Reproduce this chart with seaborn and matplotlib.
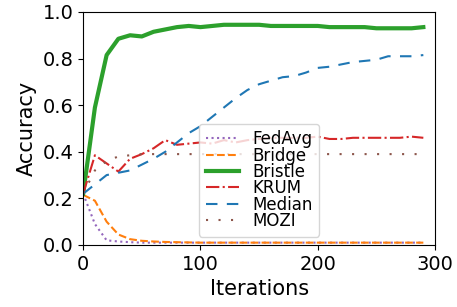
import numpy as np
import pandas as pd
import matplotlib
matplotlib.use("Agg")
import matplotlib.pyplot as plt
import seaborn as sns

# iterations 0..290, step 10
iterations = list(range(0, 300, 10))

fedavg = [0.22, 0.09, 0.02, 0.015, 0.012, 0.01, 0.01, 0.01, 0.01, 0.01,
          0.01, 0.01, 0.01, 0.01, 0.01, 0.01, 0.01, 0.01, 0.01, 0.01,
          0.01, 0.01, 0.01, 0.01, 0.01, 0.01, 0.01, 0.01, 0.01, 0.01]
bridge = [0.215, 0.19, 0.10, 0.045, 0.025, 0.018, 0.015, 0.013, 0.012, 0.011,
          0.01, 0.01, 0.01, 0.01, 0.01, 0.01, 0.01, 0.01, 0.01, 0.01,
          0.01, 0.01, 0.01, 0.01, 0.01, 0.01, 0.01, 0.01, 0.01, 0.01]
bristle = [0.22, 0.59, 0.815, 0.885, 0.90, 0.895, 0.915, 0.925, 0.935, 0.94,
           0.935, 0.94, 0.945, 0.945, 0.945, 0.945, 0.94, 0.94, 0.94, 0.94,
           0.94, 0.935, 0.935, 0.935, 0.935, 0.93, 0.93, 0.93, 0.93, 0.935]
krum = [0.22, 0.385, 0.35, 0.315, 0.37, 0.39, 0.415, 0.45, 0.43, 0.435,
        0.44, 0.435, 0.45, 0.44, 0.45, 0.455, 0.46, 0.46, 0.46, 0.46,
        0.465, 0.455, 0.455, 0.46, 0.46, 0.46, 0.46, 0.46, 0.465, 0.46]
median = [0.22, 0.26, 0.30, 0.31, 0.32, 0.345, 0.37, 0.40, 0.44, 0.48,
          0.51, 0.55, 0.59, 0.63, 0.665, 0.69, 0.705, 0.72, 0.725, 0.74,
          0.76, 0.765, 0.775, 0.785, 0.79, 0.795, 0.81, 0.81, 0.81, 0.815]
mozi = [0.22, 0.32, 0.36, 0.38, 0.385, 0.39, 0.39, 0.39, 0.39, 0.39,
        0.39, 0.39, 0.39, 0.39, 0.39, 0.39, 0.39, 0.39, 0.39, 0.39,
        0.39, 0.39, 0.39, 0.39, 0.39, 0.39, 0.39, 0.39, 0.39, 0.39]

methods = ["FedAvg", "Bridge", "Bristle", "KRUM", "Median", "MOZI"]
values = [fedavg, bridge, bristle, krum, median, mozi]

df = pd.DataFrame({"Iterations": iterations * len(methods),
                   "Accuracy": sum(values, []),
                   "method": [m for m in methods for _ in iterations]})

colors = {"FedAvg": "tab:purple", "Bridge": "tab:orange", "Bristle": "tab:green",
          "KRUM": "tab:red", "Median": "tab:blue", "MOZI": "tab:brown"}
styles = {"FedAvg": ":", "Bridge": "--", "Bristle": "-",
          "KRUM": "-.", "Median": (0, (5.5, 4.5)), "MOZI": (0, (1, 5))}
widths = {"FedAvg": 1.5, "Bridge": 1.5, "Bristle": 3, "KRUM": 1.5,
          "Median": 1.5, "MOZI": 1.5}

fig = plt.figure(figsize=(4.57, 3.07), dpi=100)
ax = fig.add_axes([0.182, 0.202, 0.770, 0.759])

for m in methods:
    sns.lineplot(data=df[df["method"] == m], x="Iterations", y="Accuracy",
                 ax=ax, label=m, color=colors[m], linestyle=styles[m],
                 linewidth=widths[m])

ax.set_xlim(0, 300)
ax.set_ylim(0, 1.0)
ax.set_xticks([0, 100, 200, 300])
ax.set_yticks([0.0, 0.2, 0.4, 0.6, 0.8, 1.0])
ax.tick_params(labelsize=14)
ax.set_xlabel("Iterations", fontsize=15)
ax.set_ylabel("Accuracy", fontsize=15)
ax.legend(loc="lower center", fontsize=12, labelspacing=-0.1)

fig.savefig("out.png", dpi=100)
